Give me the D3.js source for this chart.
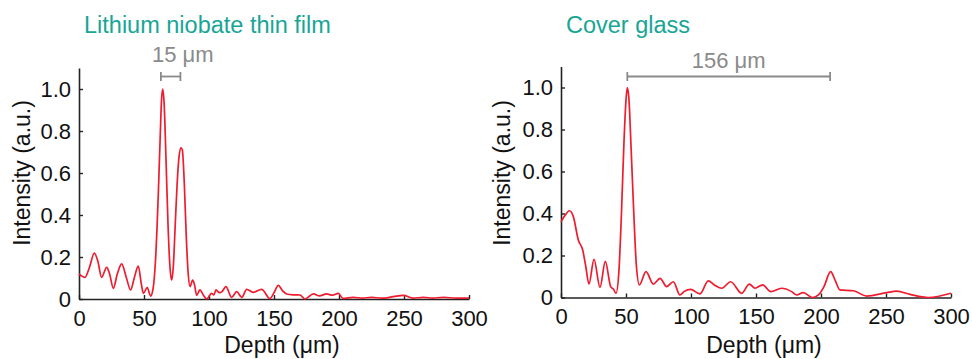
<!DOCTYPE html>
<html><head><meta charset="utf-8">
<script src="https://cdn.jsdelivr.net/npm/d3@7"></script>
<style>
body{margin:0;background:#fff;}
svg{display:block;font-family:"Liberation Sans",Arial,sans-serif;}
</style></head>
<body><svg id="c" width="972" height="359"></svg>
<script>
// ---- data ----
const titles = ["Lithium niobate thin film", "Cover glass"];
const xTicks = [0, 50, 100, 150, 200, 250, 300];
const yTicks = [0, 0.2, 0.4, 0.6, 0.8, 1.0];
const annotations = [
  {from: 63, to: 78, label: "15 μm"},
  {from: 51, to: 207, label: "156 μm"}
];
// left: lithium niobate thin film [depth µm, intensity]
const depthLN = [0,4.6,8,11.8,14.5,17.4,21.3,23.5,26.4,29.5,32.8,36.5,39.7,42.5,45.6,48,49.5,52.5,55.1,57,59,61,62.5,63.5,64.4,65.5,67,68.5,70,71.3,72.5,74,75.5,77,78.5,79.5,81,82.5,84,85.4,87.4,88.8,90.5,93,95.5,98.2,102,103.8,105.4,108,110,113,117.4,121.3,125.2,129,134,140.5,146.9,150,153.3,156.5,159.7,165,170,173.8,180.3,185,190.5,195,199.5,203,210.8,218,225,233,241.8,249.5,257,265,272,280.3,290,300];
const intenLN = [0.12,0.103,0.15,0.218,0.18,0.103,0.151,0.12,0.051,0.12,0.167,0.1,0.043,0.1,0.157,0.07,0.027,0.054,0.014,0.05,0.2,0.5,0.78,0.95,1.0,0.93,0.65,0.35,0.15,0.09,0.15,0.35,0.55,0.68,0.72,0.71,0.55,0.3,0.12,0.059,0.09,0.07,0.017,0.043,0.02,0.0,0.027,0.02,0.043,0.03,0.035,0.059,0.008,0.035,0.008,0.046,0.032,0.046,0.002,0.03,0.065,0.04,0.024,0.02,0.019,0.0,0.024,0.015,0.024,0.018,0.027,0.003,0.008,0.004,0.008,0.004,0.011,0.017,0.004,0.008,0.004,0.008,0.004,0.004];
// right: cover glass
const depthCG = [0,3,6.4,9.5,13.3,16.7,19,21.5,25.4,30,34.1,38.2,40.3,42.3,44.5,46.5,48.5,50,51,52.2,54,56,58,60.3,65.4,71,76.2,81.3,86.4,91.5,94.6,99.7,106.9,113.3,118,123.6,130.5,139,144.9,149.2,155.1,161.3,169.7,177.4,181.3,186.4,193.6,198,202.3,207.4,211,214.6,224.9,235.1,250.5,258.2,268.5,282.6,300];
const intenCG = [0.36,0.39,0.413,0.385,0.274,0.226,0.15,0.064,0.182,0.048,0.172,0.052,0.04,0.02,0.12,0.4,0.75,0.94,1.0,0.95,0.7,0.4,0.15,0.06,0.123,0.064,0.091,0.052,0.075,0.012,0.028,0.039,0.017,0.079,0.06,0.044,0.075,0.02,0.064,0.044,0.06,0.028,0.044,0.028,0.012,0.023,0.0,0.012,0.052,0.123,0.08,0.036,0.032,0.007,0.023,0.03,0.015,0.0,0.02];

// ---- layout ----
const svg = d3.select("#c");
const panels = [
  {x0: 79, y0: 299, depth: depthLN, inten: intenLN, title: titles[0], ann: annotations[0], titleX: 84, ylabX: 30, annY: 61.5, annAnchor: "start", annX: 152},
  {x0: 561, y0: 297.5, depth: depthCG, inten: intenCG, title: titles[1], ann: annotations[1], titleX: 566, ylabX: 510, annY: 67.5, annAnchor: "middle", annX: null}
];
const W = 390, H = 231; // 0..1.1

panels.forEach(p => {
  const x = d3.scaleLinear().domain([0, 300]).range([p.x0, p.x0 + W]);
  const y = d3.scaleLinear().domain([0, 1.1]).range([p.y0, p.y0 - H]);

  const gx = svg.append("g").attr("transform", `translate(0,${p.y0})`)
    .call(d3.axisBottom(x).tickValues(xTicks).tickSizeInner(-4).tickSizeOuter(0).tickPadding(11).tickFormat(d3.format("d")));
  const gy = svg.append("g").attr("transform", `translate(${p.x0},0)`)
    .call(d3.axisLeft(y).tickValues(yTicks).tickSizeInner(-4).tickSizeOuter(0).tickPadding(8)
      .tickFormat(d => d === 0 ? "0" : d3.format(".1f")(d)));
  [gx, gy].forEach(g => {
    g.selectAll("text").attr("font-size", 22).attr("fill", "#111").attr("font-family", "Liberation Sans, Arial, sans-serif");
    g.select(".domain").attr("stroke", "#222").attr("stroke-width", 1.6);
    g.selectAll(".tick line").attr("stroke", "#222").attr("stroke-width", 1.4);
  });

  const line = d3.line().x((d, i) => x(p.depth[i])).y(d => y(d)).curve(d3.curveMonotoneX);
  svg.append("path").datum(p.inten).attr("d", line)
    .attr("fill", "none").attr("stroke", "#ee1c2e").attr("stroke-width", 1.7);

  // title
  svg.append("text").attr("x", p.titleX).attr("y", 33).attr("font-size", 23.5)
    .attr("fill", "#17a596").text(p.title);
  // axis labels
  svg.append("text").attr("x", (p.x0 + p.x0 + W) / 2 + 8).attr("y", 353).attr("text-anchor", "middle")
    .attr("font-size", 23).attr("fill", "#111").text("Depth (μm)");
  svg.append("text").attr("transform", `translate(${p.ylabX},173) rotate(-90)`).attr("text-anchor", "middle")
    .attr("font-size", 23).attr("fill", "#111").text("Intensity (a.u.)");

  // annotation bracket
  const ax1 = x(p.ann.from), ax2 = x(p.ann.to), ay = 76.5;
  const ga = svg.append("g").attr("stroke", "#8a8a8a").attr("stroke-width", 1.8).attr("fill", "none");
  ga.append("line").attr("x1", ax1).attr("x2", ax2).attr("y1", ay).attr("y2", ay);
  ga.append("line").attr("x1", ax1).attr("x2", ax1).attr("y1", ay - 4.5).attr("y2", ay + 4.5);
  ga.append("line").attr("x1", ax2).attr("x2", ax2).attr("y1", ay - 4.5).attr("y2", ay + 4.5);
  svg.append("text").attr("x", p.annX === null ? (ax1 + ax2) / 2 : p.annX).attr("y", p.annY)
    .attr("text-anchor", p.annAnchor).attr("font-size", 22).attr("fill", "#8a8a8a").text(p.ann.label);
});
</script></body></html>
